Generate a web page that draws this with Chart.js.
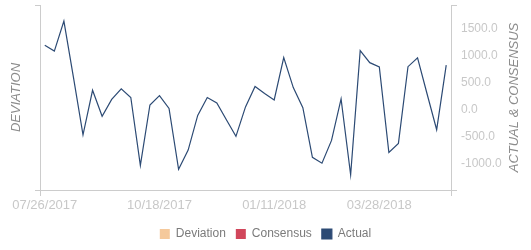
<!DOCTYPE html>
<html lang="en">
<head>
  <meta charset="UTF-8" />
  <title>Actual vs Consensus</title>
  <script src="https://cdn.jsdelivr.net/npm/chart.js"></script>
  <style>
    html, body { margin: 0; padding: 0; background: #fff; }
  </style>
</head>
<body>
<canvas id="chart" width="531" height="250"></canvas>

<script>
// weekly release dates (only a few are shown on the axis)
const weekDates = [
  '07/26/2017', '08/02/2017', '08/09/2017', '08/16/2017', '08/23/2017', '08/30/2017',
  '09/06/2017', '09/13/2017', '09/20/2017', '09/27/2017', '10/04/2017', '10/11/2017',
  '10/18/2017', '10/25/2017', '11/01/2017', '11/08/2017', '11/15/2017', '11/22/2017',
  '11/29/2017', '12/06/2017', '12/13/2017', '12/20/2017', '12/28/2017', '01/04/2018',
  '01/11/2018', '01/17/2018', '01/24/2018', '01/31/2018', '02/07/2018', '02/14/2018',
  '02/22/2018', '02/28/2018', '03/07/2018', '03/14/2018', '03/21/2018', '03/28/2018',
  '04/04/2018', '04/11/2018', '04/18/2018', '04/25/2018', '05/02/2018', '05/09/2018',
  '05/16/2018'
];
const shownDates = ['07/26/2017', '10/18/2017', '01/11/2018', '03/28/2018'];

const actualValues = [
  1200, 1090, 1650, 600, -470, 360, -125, 190, 385, 225, -1040, 85,
  260, 20, -1115, -755, -110, 225, 125, -190, -500, 50, 430, 300,
  180, 970, 410, 35, -890, -1000, -575, 200, -1215, 1100, 875, 795,
  -800, -630, 800, 965, 290, -375, 830
];
const consensusValues = [];
const deviationValues = [];

const yTicks = [-1000, -500, 0, 500, 1000, 1500];
const yMin = -1500;
const yMax = 1950;

const FONT = "'Liberation Sans', Arial, sans-serif";
const AXIS = '#cccccc';
Chart.defaults.font.family = FONT;

// right axis title reads bottom-to-top, chart.js would rotate it the other way
const rightTitle = {
  id: 'rightTitle',
  afterDraw(chart) {
    const s = chart.scales.y;
    const c = chart.ctx;
    c.save();
    c.font = 'italic 13px ' + FONT;
    c.fillStyle = '#8c8c8c';
    c.textAlign = 'center';
    c.textBaseline = 'middle';
    c.translate(s.right - 17, (s.top + s.bottom) / 2);
    c.rotate(-Math.PI / 2);
    c.fillText('ACTUAL & CONSENSUS', 0, 0);
    c.restore();
  }
};

new Chart(document.getElementById('chart'), {
  type: 'line',
  data: {
    labels: weekDates,
    datasets: [
      { label: 'Deviation', data: deviationValues, yAxisID: 'yDev',
        backgroundColor: '#f5c99b', borderColor: '#f5c99b', borderWidth: 0 },
      { label: 'Consensus', data: consensusValues, yAxisID: 'y',
        backgroundColor: '#d1465b', borderColor: '#d1465b', borderWidth: 0 },
      { label: 'Actual', data: actualValues, yAxisID: 'y',
        backgroundColor: '#2c4a74', borderColor: '#2c4a74', borderWidth: 1.2,
        pointRadius: 0, tension: 0, fill: false }
    ]
  },
  options: {
    responsive: false,
    animation: false,
    layout: { padding: { top: 5, right: 0, bottom: 0, left: 0 } },
    plugins: {
      tooltip: { enabled: false },
      legend: {
        position: 'bottom',
        labels: { boxWidth: 10, boxHeight: 10, padding: 10, color: '#7b7b7b', font: { size: 12 } }
      }
    },
    scales: {
      x: {
        offset: true,
        grid: {
          offset: true,
          drawOnChartArea: false,
          tickLength: 6,
          color: ctx => (ctx.type === 'tick' && ctx.index !== 0) ? 'transparent' : AXIS
        },
        border: { color: AXIS },
        ticks: {
          autoSkip: false, maxRotation: 0, minRotation: 0, padding: 2,
          color: '#c8c8c8', font: { size: 13 },
          callback: (v, i) => shownDates.includes(weekDates[i]) ? weekDates[i] : ''
        },
        afterFit: s => { s.height = 28; s.paddingLeft = 0; s.paddingRight = 0; }
      },
      yDev: {
        position: 'left',
        min: 0, max: 1,
        afterBuildTicks: ax => { ax.ticks = [{ value: 0 }, { value: 1 }]; },
        ticks: { display: false },
        grid: { drawOnChartArea: false, tickLength: 5, color: AXIS },
        border: { color: AXIS },
        title: {
          display: true, text: 'DEVIATION', color: '#8c8c8c',
          font: { size: 13, style: 'italic' }, padding: { top: 9, bottom: 0 }
        },
        afterFit: s => { s.width = 40; s.paddingTop = 0; s.paddingBottom = 0; }
      },
      y: {
        position: 'right',
        min: yMin, max: yMax,
        afterBuildTicks: ax => { ax.ticks = [yMin, ...yTicks, yMax].map(v => ({ value: v })); },
        ticks: {
          color: '#c8c8c8', font: { size: 12 }, padding: 4,
          callback: v => yTicks.includes(v) ? v.toFixed(1) : ''
        },
        grid: {
          drawOnChartArea: false,
          tickLength: 6,
          color: ctx => (ctx.tick && (ctx.tick.value === yMin || ctx.tick.value === yMax)) ? AXIS : 'transparent'
        },
        border: { color: AXIS },
        afterFit: s => { s.width = 80; s.paddingTop = 0; s.paddingBottom = 0; }
      }
    }
  },
  plugins: [rightTitle]
});
</script>
</body>
</html>
